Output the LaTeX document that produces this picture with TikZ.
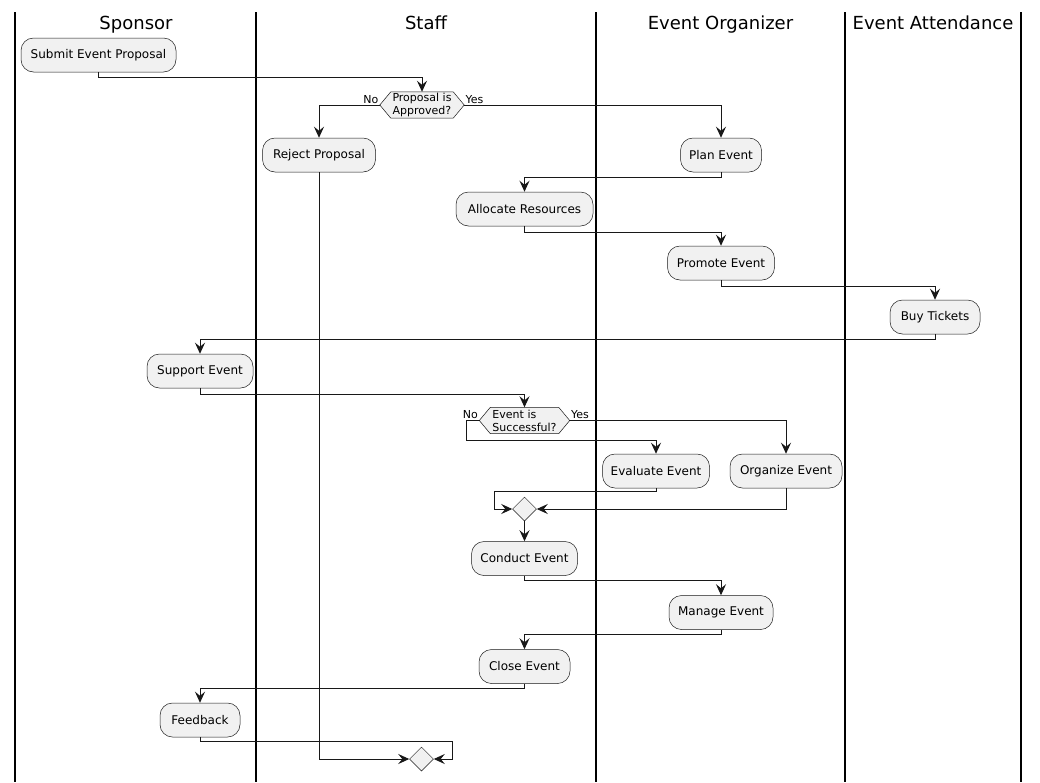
\documentclass[tikz,border=0pt]{standalone}
\usepackage{fontspec}
\setmainfont{DejaVu Sans}
\usetikzlibrary{arrows.meta,backgrounds,calc,shapes.geometric}
\definecolor{boxC}{HTML}{F1F1F1}
\definecolor{lineC}{HTML}{181818}
\begin{document}
\begin{tikzpicture}[x=1pt,y=-1pt,
  act/.style={draw=lineC,line width=0.5pt,fill=boxC,rounded corners=12.5pt,minimum height=34pt,inner sep=0pt,font=\fontsize{12}{14}\selectfont},
  hexnode/.style={inner sep=0pt,minimum height=26pt,align=left,font=\fontsize{11}{13}\selectfont},
  hexdraw/.style={draw=lineC,line width=0.5pt,fill=boxC},
  merge/.style={draw=lineC,line width=0.5pt,fill=boxC,diamond,minimum width=24pt,minimum height=24pt,inner sep=0pt},
  flow/.style={draw=lineC,line width=1pt,-{Stealth[length=11pt,width=10pt,inset=4pt]}},
  lane/.style={draw=black,line width=1.5pt},
  lanehead/.style={font=\fontsize{18}{20}\selectfont,anchor=base,inner sep=0pt},
  lbl/.style={font=\fontsize{11}{13}\selectfont,inner sep=1pt}
]
\useasboundingbox (0,0) rectangle (1040,782);
\begin{scope}[on background layer]
  \fill[white] (0,0) rectangle (1040,782);
\end{scope}

% swimlanes
\coordinate (l0t) at (15,12);   \coordinate (l0b) at (15,782);
\coordinate (l1t) at (256,12);  \coordinate (l1b) at (256,782);
\coordinate (l2t) at (596,12);  \coordinate (l2b) at (596,782);
\coordinate (l3t) at (845,12);  \coordinate (l3b) at (845,782);
\coordinate (l4t) at (1021,12); \coordinate (l4b) at (1021,782);
\draw[lane] (l0t) -- (l0b);
\draw[lane] (l1t) -- (l1b);
\draw[lane] (l2t) -- (l2b);
\draw[lane] (l3t) -- (l3b);
\draw[lane] (l4t) -- (l4b);

\node[lanehead] (hSp) at (136,29) {Sponsor};
\node[lanehead] (hSt) at (426,29) {Staff};
\node[lanehead] (hEo) at (720.5,29) {Event Organizer};
\node[lanehead] (hEa) at (933,29) {Event Attendance};

% activities
\node[act,minimum width=155pt] (sub) at (98.5,55) {Submit Event Proposal};
\node[hexnode,minimum width=84pt] (h1) at (422,105) {Proposal is\\Approved?};
\node[act,minimum width=113pt] (rej) at (319,155) {Reject Proposal};
\node[act,minimum width=81pt] (plan) at (721,155) {Plan Event};
\node[act,minimum width=137pt] (alloc) at (524.5,209) {Allocate Resources};
\node[act,minimum width=107pt] (prom) at (721,263) {Promote Event};
\node[act,minimum width=90pt] (buy) at (935,317) {Buy Tickets};
\node[act,minimum width=106pt] (supp) at (200,371) {Support Event};
\node[hexnode,minimum width=90pt] (h2) at (524.5,420.5) {Event is\\Successful?};
\node[act,minimum width=107pt] (eval) at (656,471) {Evaluate Event};
\node[act,minimum width=112pt] (org) at (786,471) {Organize Event};
\node[merge] (m1) at (524.5,509) {};
\node[act,minimum width=106pt] (cond) at (524.5,558.5) {Conduct Event};
\node[act,minimum width=104pt] (man) at (721,612.5) {Manage Event};
\node[act,minimum width=91pt] (close) at (524.5,666.5) {Close Event};
\node[act,minimum width=80pt] (fb) at (200,720) {Feedback};
\node[merge] (m2) at (421.5,759) {};

\begin{scope}[on background layer]
  \draw[hexdraw] (h1.west) -- ($(h1.north west)+(11,0)$) -- ($(h1.north east)+(-11,0)$) -- (h1.east) -- ($(h1.south east)+(-11,0)$) -- ($(h1.south west)+(11,0)$) -- cycle;
  \draw[hexdraw] (h2.west) -- ($(h2.north west)+(11,0)$) -- ($(h2.north east)+(-11,0)$) -- (h2.east) -- ($(h2.south east)+(-11,0)$) -- ($(h2.south west)+(11,0)$) -- cycle;
\end{scope}

% connectors
\draw[flow] (sub.south) -- ++(0,5) -| (h1.north);
\draw[flow] (h1.west) node[lbl,anchor=base east,yshift=2pt]{No} -| (rej.north);
\draw[flow] (h1.east) node[lbl,anchor=base west,yshift=2pt]{Yes} -| (plan.north);
\draw[flow] (plan.south) -- ++(0,5) -| (alloc.north);
\draw[flow] (alloc.south) -- ++(0,6) -| (prom.north);
\draw[flow] (prom.south) -- ++(0,6) -| (buy.north);
\draw[flow] (buy.south) -- ++(0,5) -| (supp.north);
\draw[flow] (supp.south) -- ++(0,6) -| (h2.north);
\draw[flow] (h2.west) node[lbl,anchor=base east,yshift=2pt]{No} -- ++(-13,0) -- ++(0,20) -| (eval.north);
\draw[flow] (h2.east) node[lbl,anchor=base west,yshift=2pt]{Yes} -| (org.north);
\draw[flow] (eval.south) -- ++(0,3) -| ($(m1.west)+(-18,0)$) -- (m1.west);
\draw[flow] (org.south) |- (m1.east);
\draw[flow] (m1.south) -- (cond.north);
\draw[flow] (cond.south) -- ++(0,5) -| (man.north);
\draw[flow] (man.south) -- ++(0,5) -| (close.north);
\draw[flow] (close.south) -- ++(0,5) -| (fb.north);
\draw[flow] (fb.south) -- ++(0,4) -| ($(m2.east)+(19,0)$) -- (m2.east);
\draw[flow] (rej.south) |- (m2.west);
\end{tikzpicture}
\end{document}
